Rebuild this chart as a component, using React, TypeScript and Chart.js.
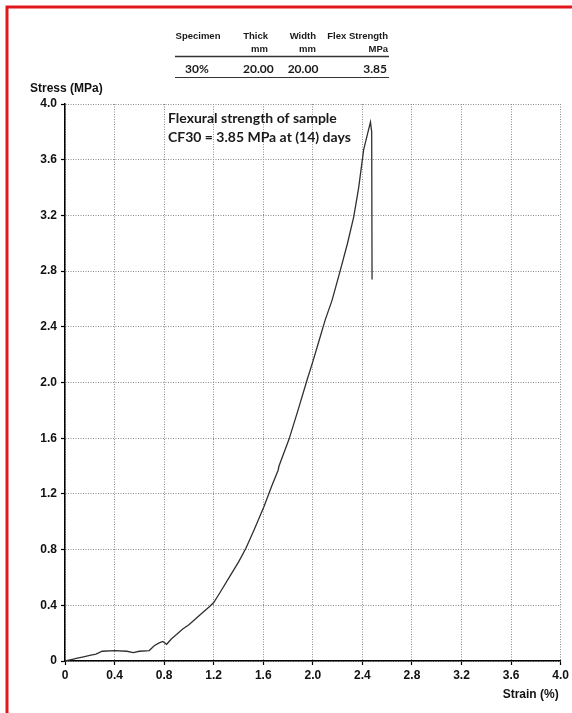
import React, { useEffect, useRef } from "react";
import { Chart, registerables } from "chart.js";

Chart.register(...registerables);

// Strain (%) values
const strain = [
  0, 0.05, 0.1, 0.15, 0.2, 0.25, 0.3, 0.4, 0.5, 0.55, 0.6, 0.68, 0.72, 0.76,
  0.79, 0.82, 0.86, 0.9, 0.95, 1.0, 1.05, 1.1, 1.165, 1.2, 1.25, 1.325, 1.4,
  1.46, 1.53, 1.606, 1.67, 1.72, 1.727, 1.76, 1.807, 1.88, 1.954, 2.0, 2.05,
  2.1, 2.155, 2.22, 2.28, 2.33, 2.37, 2.41, 2.44, 2.465, 2.475, 2.478,
];
// Stress (MPa) values
const stress = [
  0, 0.01, 0.02, 0.03, 0.04, 0.05, 0.07, 0.075, 0.07, 0.06, 0.07, 0.075, 0.11,
  0.13, 0.14, 0.12, 0.16, 0.19, 0.23, 0.26, 0.3, 0.34, 0.39, 0.42, 0.49, 0.6,
  0.71, 0.81, 0.95, 1.11, 1.26, 1.37, 1.4, 1.48, 1.59, 1.8, 2.02, 2.15, 2.3,
  2.45, 2.59, 2.8, 3.0, 3.19, 3.4, 3.67, 3.78, 3.87, 3.8, 2.74,
];

const xTicks = [0, 0.4, 0.8, 1.2, 1.6, 2.0, 2.4, 2.8, 3.2, 3.6, 4.0];
const xTickLabels = ["0", "0.4", "0.8", "1.2", "1.6", "2.0", "2.4", "2.8", "3.2", "3.6", "4.0"];
const yTicks = [0, 0.4, 0.8, 1.2, 1.6, 2.0, 2.4, 2.8, 3.2, 3.6, 4.0];
const yTickLabels = ["0", "0.4", "0.8", "1.2", "1.6", "2.0", "2.4", "2.8", "3.2", "3.6", "4.0"];

const tableHeaders = [
  ["Specimen", ""],
  ["Thick", "mm"],
  ["Width", "mm"],
  ["Flex Strength", "MPa"],
];
const tableRow = ["30%", "20.00", "20.00", "3.85"];

const annotationLines = [
  "Flexural strength of sample",
  "CF30 = 3.85 MPa at (14) days",
];
const yTitle = "Stress (MPa)";
const xTitle = "Strain (%)";

const extras = {
  id: "extras",
  afterDraw(chart: any) {
    const ctx = chart.ctx as CanvasRenderingContext2D;
    const area = chart.chartArea;
    ctx.save();
    // red frame
    ctx.strokeStyle = "#e0181c";
    ctx.lineWidth = 3;
    ctx.beginPath();
    ctx.moveTo(7, 713);
    ctx.lineTo(7, 7);
    ctx.lineTo(572, 7);
    ctx.stroke();

    // table
    ctx.fillStyle = "#1a1a1a";
    ctx.font = "bold 9.5px 'Liberation Sans', Arial, sans-serif";
    ctx.textBaseline = "alphabetic";
    ctx.textAlign = "center";
    ctx.fillText(tableHeaders[0][0], 198, 39);
    ctx.textAlign = "right";
    ctx.fillText(tableHeaders[1][0], 268, 39);
    ctx.fillText(tableHeaders[1][1], 268, 52);
    ctx.fillText(tableHeaders[2][0], 316, 39);
    ctx.fillText(tableHeaders[2][1], 316, 52);
    ctx.fillText(tableHeaders[3][0], 388, 39);
    ctx.fillText(tableHeaders[3][1], 388, 52);

    ctx.strokeStyle = "#333";
    ctx.lineWidth = 1.5;
    ctx.beginPath();
    ctx.moveTo(175, 56.5);
    ctx.lineTo(389, 56.5);
    ctx.stroke();
    ctx.lineWidth = 1;
    ctx.beginPath();
    ctx.moveTo(175, 77.5);
    ctx.lineTo(389, 77.5);
    ctx.stroke();

    ctx.font = "bold 12px Lato, 'Open Sans', sans-serif";
    ctx.textAlign = "center";
    ctx.fillText(tableRow[0], 197, 73);
    ctx.textAlign = "left";
    ctx.fillText(tableRow[1], 243, 73);
    ctx.textAlign = "center";
    ctx.fillText(tableRow[2], 303, 73);
    ctx.textAlign = "right";
    ctx.fillText(tableRow[3], 387, 73);

    // annotation
    ctx.font = "bold 14px Lato, 'Open Sans', sans-serif";
    ctx.textAlign = "left";
    ctx.fillStyle = "#1a1a1a";
    ctx.fillText(annotationLines[0], 168, 123);
    ctx.fillText(annotationLines[1], 168, 142);

    // axis titles
    ctx.font = "bold 12px 'Liberation Sans', Arial, sans-serif";
    ctx.fillStyle = "#111";
    ctx.textAlign = "left";
    ctx.fillText(yTitle, 30, 92);
    ctx.textAlign = "right";
    ctx.fillText(xTitle, area.right - 2, 698);
    ctx.restore();
  },
};

const gridCommon = {
  color: "#8a8a8a",
  lineWidth: 1,
  tickColor: "#000",
  tickLength: 4,
  tickWidth: 1.2,
  tickBorderDash: [],
  drawOnChartArea: true,
  drawTicks: true,
};
const borderCommon = { display: true, color: "#000", width: 1.5, dash: [1, 1.5] };

export default function App() {
  const ref = useRef<HTMLCanvasElement | null>(null);
  useEffect(() => {
    document.body.style.margin = "0";
    document.body.style.background = "#fff";
    const canvas = ref.current!;
    const data = strain.map((x, i) => ({ x, y: stress[i] }));
    const chart = new Chart(canvas, {
      type: "scatter",
      data: {
        datasets: [
          {
            data,
            showLine: true,
            borderColor: "#303030",
            borderWidth: 1.3,
            pointRadius: 0,
            tension: 0,
            fill: false,
          },
        ],
      },
      options: {
        animation: false,
        responsive: false,
        maintainAspectRatio: false,
        layout: { padding: { left: 0, top: 104, right: 9, bottom: 0 } },
        plugins: {
          legend: { display: false },
          tooltip: { enabled: false },
          title: { display: false },
        },
        scales: {
          x: {
            type: "linear",
            min: 0,
            max: 4,
            afterBuildTicks: (s: any) => {
              s.ticks = xTicks.map((v) => ({ value: v }));
            },
            afterFit: (s: any) => {
              s.height = 52;
            },
            grid: gridCommon as any,
            border: borderCommon as any,
            ticks: {
              autoSkip: false,
              maxRotation: 0,
              padding: 3,
              color: "#111",
              font: { family: "'Liberation Sans', Arial, sans-serif", weight: "bold", size: 12 },
              callback: (v: any) => {
                const i = xTicks.findIndex((t) => Math.abs(t - Number(v)) < 1e-6);
                return i >= 0 ? xTickLabels[i] : "";
              },
            },
          },
          y: {
            type: "linear",
            min: 0,
            max: 4,
            afterBuildTicks: (s: any) => {
              s.ticks = yTicks.map((v) => ({ value: v }));
            },
            afterFit: (s: any) => {
              s.width = 65;
            },
            grid: gridCommon as any,
            border: borderCommon as any,
            ticks: {
              autoSkip: false,
              padding: 4,
              color: "#111",
              font: { family: "'Liberation Sans', Arial, sans-serif", weight: "bold", size: 12 },
              callback: (v: any) => {
                const i = yTicks.findIndex((t) => Math.abs(t - Number(v)) < 1e-6);
                return i >= 0 ? yTickLabels[i] : "";
              },
            },
          },
        },
      } as any,
      plugins: [extras],
    });
    return () => chart.destroy();
  }, []);
  return (
    <div style={{ width: 572, height: 713, background: "#fff" }}>
      <canvas ref={ref} width={572} height={713} style={{ display: "block" }} />
    </div>
  );
}
